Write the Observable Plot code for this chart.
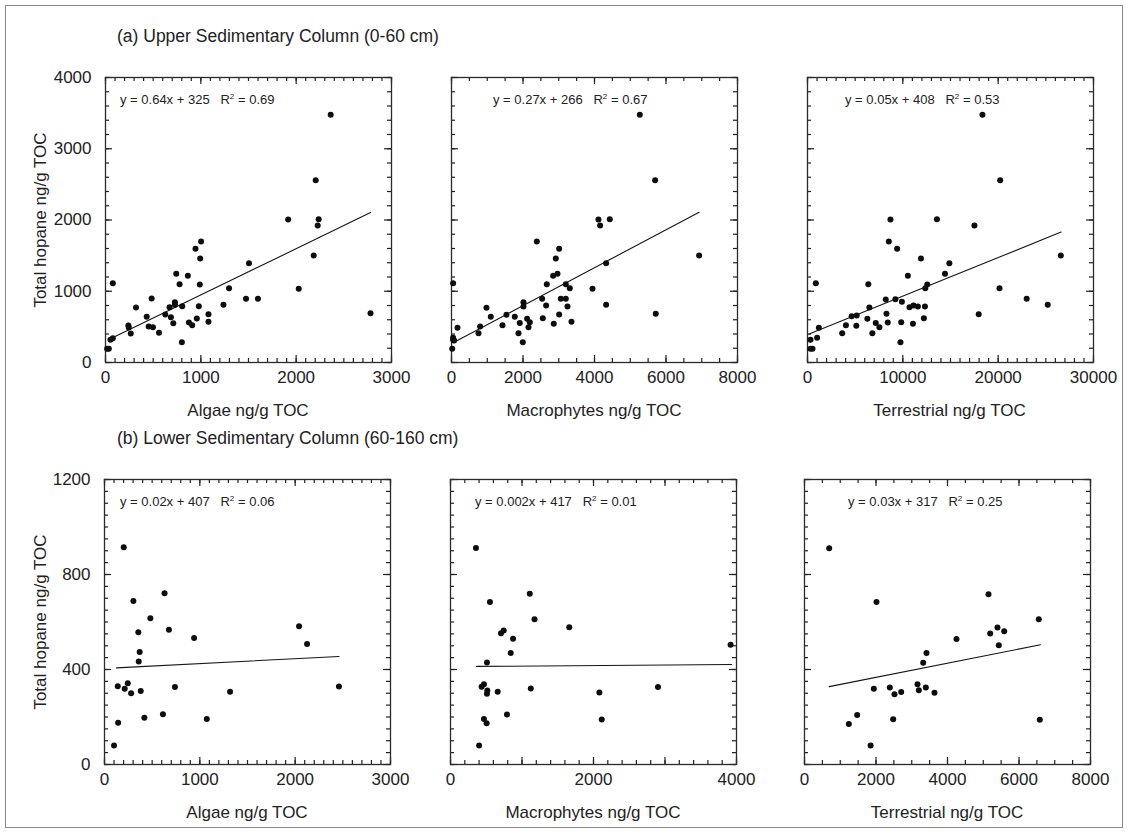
<!DOCTYPE html>
<html><head><meta charset="utf-8">
<script src="https://cdn.jsdelivr.net/npm/d3@7"></script>
<script src="https://cdn.jsdelivr.net/npm/@observablehq/plot@0.6"></script>
<style>
body{margin:0;background:#fff;font-family:"Liberation Sans",Arial,sans-serif;color:#222}
#fig{position:relative;width:1128px;height:833px;overflow:hidden;background:#fff}
.abs{position:absolute;white-space:nowrap;line-height:1}
#fig svg{position:absolute}
sup{font-size:0.62em;vertical-align:0.55em;line-height:0}
</style></head><body><div id="fig"></div>
<script>
// ---------- DATA ----------
const rowTitles = ["(a) Upper Sedimentary Column (0-60 cm)", "(b) Lower Sedimentary Column (60-160 cm)"];
const xTitles = ["Algae ng/g TOC", "Macrophytes ng/g TOC", "Terrestrial ng/g TOC"];
const yTitle = "Total hopane ng/g TOC";

const eqUpper = ["y = 0.64x + 325", "y = 0.27x + 266", "y = 0.05x + 408"];
const r2Upper = ["0.69", "0.67", "0.53"];
const eqLower = ["y = 0.02x + 407", "y = 0.002x + 417", "y = 0.03x + 317"];
const r2Lower = ["0.06", "0.01", "0.25"];

// upper column: algae
const upAlgaeX = [2362,2205,1916,2236,2226,2184,2027,1505,1296,1474,1599,1237,1003,944,993,989,864,742,777,979,1080,1080,958,909,875,805,728,728,672,686,711,627,801,484,320,432,453,498,561,240,244,265,77,77,52,17,35,2780];
const upAlgaeY = [3476,2559,2007,2012,1923,1502,1034,1394,1043,894,894,809,1698,1595,1460,1095,1216,1244,1099,791,678,571,618,524,561,791,847,810,777,636,552,674,285,898,772,641,505,496,416,519,491,407,1113,341,318,192,192,690];
// upper column: macrophytes
const upMacroX = [5267,5695,4111,4428,4157,6926,2386,3011,2917,4325,2965,2843,2666,3197,3309,3944,4325,5714,45,2535,3057,3197,2647,3244,3011,2013,2013,978,1099,1538,1770,2115,2190,1910,2554,2861,3356,2154,1874,1994,1426,800,755,168,45,45,20,73];
const upMacroY = [3476,2559,2007,2012,1923,1502,1698,1595,1460,1394,1244,1216,1099,1099,1043,1034,809,683,1113,894,894,894,800,786,674,847,786,768,641,669,641,613,566,556,622,543,571,496,412,285,524,505,412,487,347,318,192,309];
// upper column: terrestrial
const upTerrX = [18350,20210,8700,13580,17510,26570,8530,9400,11900,14880,14420,10530,6380,12560,12350,20140,874,22990,25200,17960,8210,9220,9900,10700,11120,11580,12320,12210,11060,9830,9750,8280,8420,6490,6280,7160,7540,6800,4630,5160,5120,4030,3640,1190,1010,316,316,526];
const upTerrY = [3476,2559,2007,2012,1923,1502,1698,1595,1460,1394,1244,1216,1099,1095,1043,1043,1113,894,809,678,884,889,852,777,800,786,786,622,543,566,285,683,561,772,613,556,496,412,650,660,515,524,412,487,347,318,192,192];

// lower column
const loAlgaeX = [202,630,303,481,676,355,2041,2125,940,369,359,139,244,212,279,380,739,1317,2459,143,418,613,1073,100];
const loAlgaeY = [915,721,688,616,567,557,582,507,533,474,434,330,342,319,300,309,326,306,328,176,197,212,192,80];
const loMacroX = [356,552,1109,1175,706,744,875,1661,842,510,3917,435,468,515,510,660,1123,2082,2902,468,505,790,2115,400];
const loMacroY = [912,684,719,612,553,564,529,578,470,429,504,327,338,312,298,306,320,303,326,192,174,211,189,80];
const loTerrX = [690,2014,5147,6554,5398,5194,5586,4252,5435,3412,3320,1939,2386,2517,2704,3161,3198,3393,3636,1240,1473,2480,6582,1850];
const loTerrY = [911,684,717,612,577,552,561,528,502,469,428,319,324,296,305,338,313,324,302,171,208,191,188,80];

// regression line end points (x1, x2) and (y1, y2)
const fitX = [[52,2780],[45,6926],[170,26600],[125,2460],[365,3931],[690,6600]];
const fitY = [[332,2104],[278,2109],[400,1830],[407,455],[413,421],[328,504]];

// axis domains and tick values
const xMaxes = [3000, 8000, 30000, 3000, 4000, 8000];
const xLabelTicks = [[0,1000,2000,3000],[0,2000,4000,6000,8000],[0,10000,20000,30000],[0,1000,2000,3000],[0,2000,4000],[0,2000,4000,6000,8000]];
const xMajorStep = [1000, 2000, 10000, 1000, 1000, 2000];
const xMinorStep = [100, 500, 1000, 100, 200, 500];
const yMaxes = [4000, 1200];
const yLabelTicks = [[0,1000,2000,3000,4000],[0,400,800,1200]];
const yMajorStep = [1000, 400];
const yMinorStep = [200, 50];

// ---------- LAYOUT ----------
const fig = document.getElementById("fig");
const FONT = '"Liberation Sans", Arial, sans-serif';
const frameLeft = [[105,451,806.5],[104,450,804]];
const frameTop = [77, 479];
const FW = 286, FH = 285;
const mL = 110, mR = 20, mT = 20, mB = 40;

const seriesX = [upAlgaeX, upMacroX, upTerrX, loAlgaeX, loMacroX, loTerrX];
const seriesY = [upAlgaeY, upMacroY, upTerrY, loAlgaeY, loMacroY, loTerrY];

function steps(max, step) { return d3.range(0, max + step / 2, step); }

function addText(html, x, y, opts = {}) {
  const d = document.createElement("div");
  d.className = "abs";
  d.innerHTML = html;
  d.style.left = x + "px";
  d.style.top = y + "px";
  d.style.fontSize = (opts.size || 17) + "px";
  d.style.transform = opts.transform || "translate(0,-50%)";
  if (opts.origin) d.style.transformOrigin = opts.origin;
  fig.appendChild(d);
  return d;
}

for (let p = 0; p < 6; p++) {
  const row = Math.floor(p / 3), col = p % 3;
  const xMax = xMaxes[p], yMax = yMaxes[row];
  const pts = seriesX[p].map((x, i) => ({x, y: seriesY[p][i]}));
  const fit = fitX[p].map((x, i) => ({x, y: fitY[p][i]}));
  const xMinor = steps(xMax, xMinorStep[p]);
  const xMajor = steps(xMax, xMajorStep[p]);
  const yMinor = steps(yMax, yMinorStep[row]);
  const yMajor = steps(yMax, yMajorStep[row]);
  const dy = (px) => yMax * px / FH;
  const dx = (px) => xMax * px / FW;
  const tk = {stroke: "#222", strokeWidth: 1.2};
  const marks = [
    // inward ticks on all four sides
    Plot.ruleX(xMinor, {x: d => d, y1: 0, y2: dy(4), ...tk}),
    Plot.ruleX(xMajor, {x: d => d, y1: 0, y2: dy(7), ...tk}),
    Plot.ruleX(xMinor, {x: d => d, y1: yMax, y2: yMax - dy(4), ...tk}),
    Plot.ruleX(xMajor, {x: d => d, y1: yMax, y2: yMax - dy(7), ...tk}),
    Plot.ruleY(yMinor, {y: d => d, x1: 0, x2: dx(4), ...tk}),
    Plot.ruleY(yMajor, {y: d => d, x1: 0, x2: dx(7), ...tk}),
    Plot.ruleY(yMinor, {y: d => d, x1: xMax, x2: xMax - dx(4), ...tk}),
    Plot.ruleY(yMajor, {y: d => d, x1: xMax, x2: xMax - dx(7), ...tk}),
    Plot.frame({stroke: "#2b2b2b", strokeWidth: 1.3}),
    Plot.axisX({ticks: xLabelTicks[p], tickSize: 0, tickPadding: 8, tickFormat: d => String(d), label: null, fontSize: 17, fill: "#222"}),
    Plot.line(fit, {x: "x", y: "y", stroke: "#151515", strokeWidth: 1.1}),
    Plot.dot(pts, {x: "x", y: "y", r: 3, fill: "#0d0d0d", stroke: "none"})
  ];
  if (col === 0) marks.push(Plot.axisY({ticks: yLabelTicks[row], tickSize: 0, tickPadding: 14, tickFormat: d => String(d), label: null, fontSize: 17, fill: "#222"}));
  const svg = Plot.plot({
    width: FW + mL + mR, height: FH + mT + mB,
    marginLeft: mL, marginRight: mR, marginTop: mT, marginBottom: mB,
    x: {domain: [0, xMax], label: null},
    y: col === 0 ? {domain: [0, yMax], label: null} : {domain: [0, yMax], label: null, axis: null},
    style: {background: "transparent", overflow: "visible", fontFamily: FONT, fontSize: "17px", maxWidth: "none"},
    marks
  });
  svg.style.left = (frameLeft[row][col] - mL) + "px";
  svg.style.top = (frameTop[row] - mT) + "px";
  fig.appendChild(svg);
}

// row titles
addText(rowTitles[0], 117, 37, {size: 17.5});
addText(rowTitles[1], 117, 439, {size: 17.5});

// equations
const eqLeft = [[120,493,845],[120,475,848]];
const eqY = [99, 501];
for (let c = 0; c < 3; c++) {
  addText(eqUpper[c] + "&nbsp;&nbsp;&nbsp;R<sup>2</sup> = " + r2Upper[c], eqLeft[0][c], eqY[0], {size: 13});
  addText(eqLower[c] + "&nbsp;&nbsp;&nbsp;R<sup>2</sup> = " + r2Lower[c], eqLeft[1][c], eqY[1], {size: 13});
}

// axis titles
const xTitleY = [410, 812];
for (let r = 0; r < 2; r++) {
  for (let c = 0; c < 3; c++) {
    addText(xTitles[c], frameLeft[r][c] + FW / 2, xTitleY[r], {transform: "translate(-50%,-50%)"});
  }
  addText(yTitle, 40, frameTop[r] + FH / 2, {transform: "translate(-50%,-50%) rotate(-90deg)", origin: "50% 50%"});
}

// figure border
const b = document.createElement("div");
b.style.cssText = "position:absolute;left:5px;top:5px;width:1116px;height:821px;border:1px solid #888;pointer-events:none";
fig.appendChild(b);
</script></body></html>
